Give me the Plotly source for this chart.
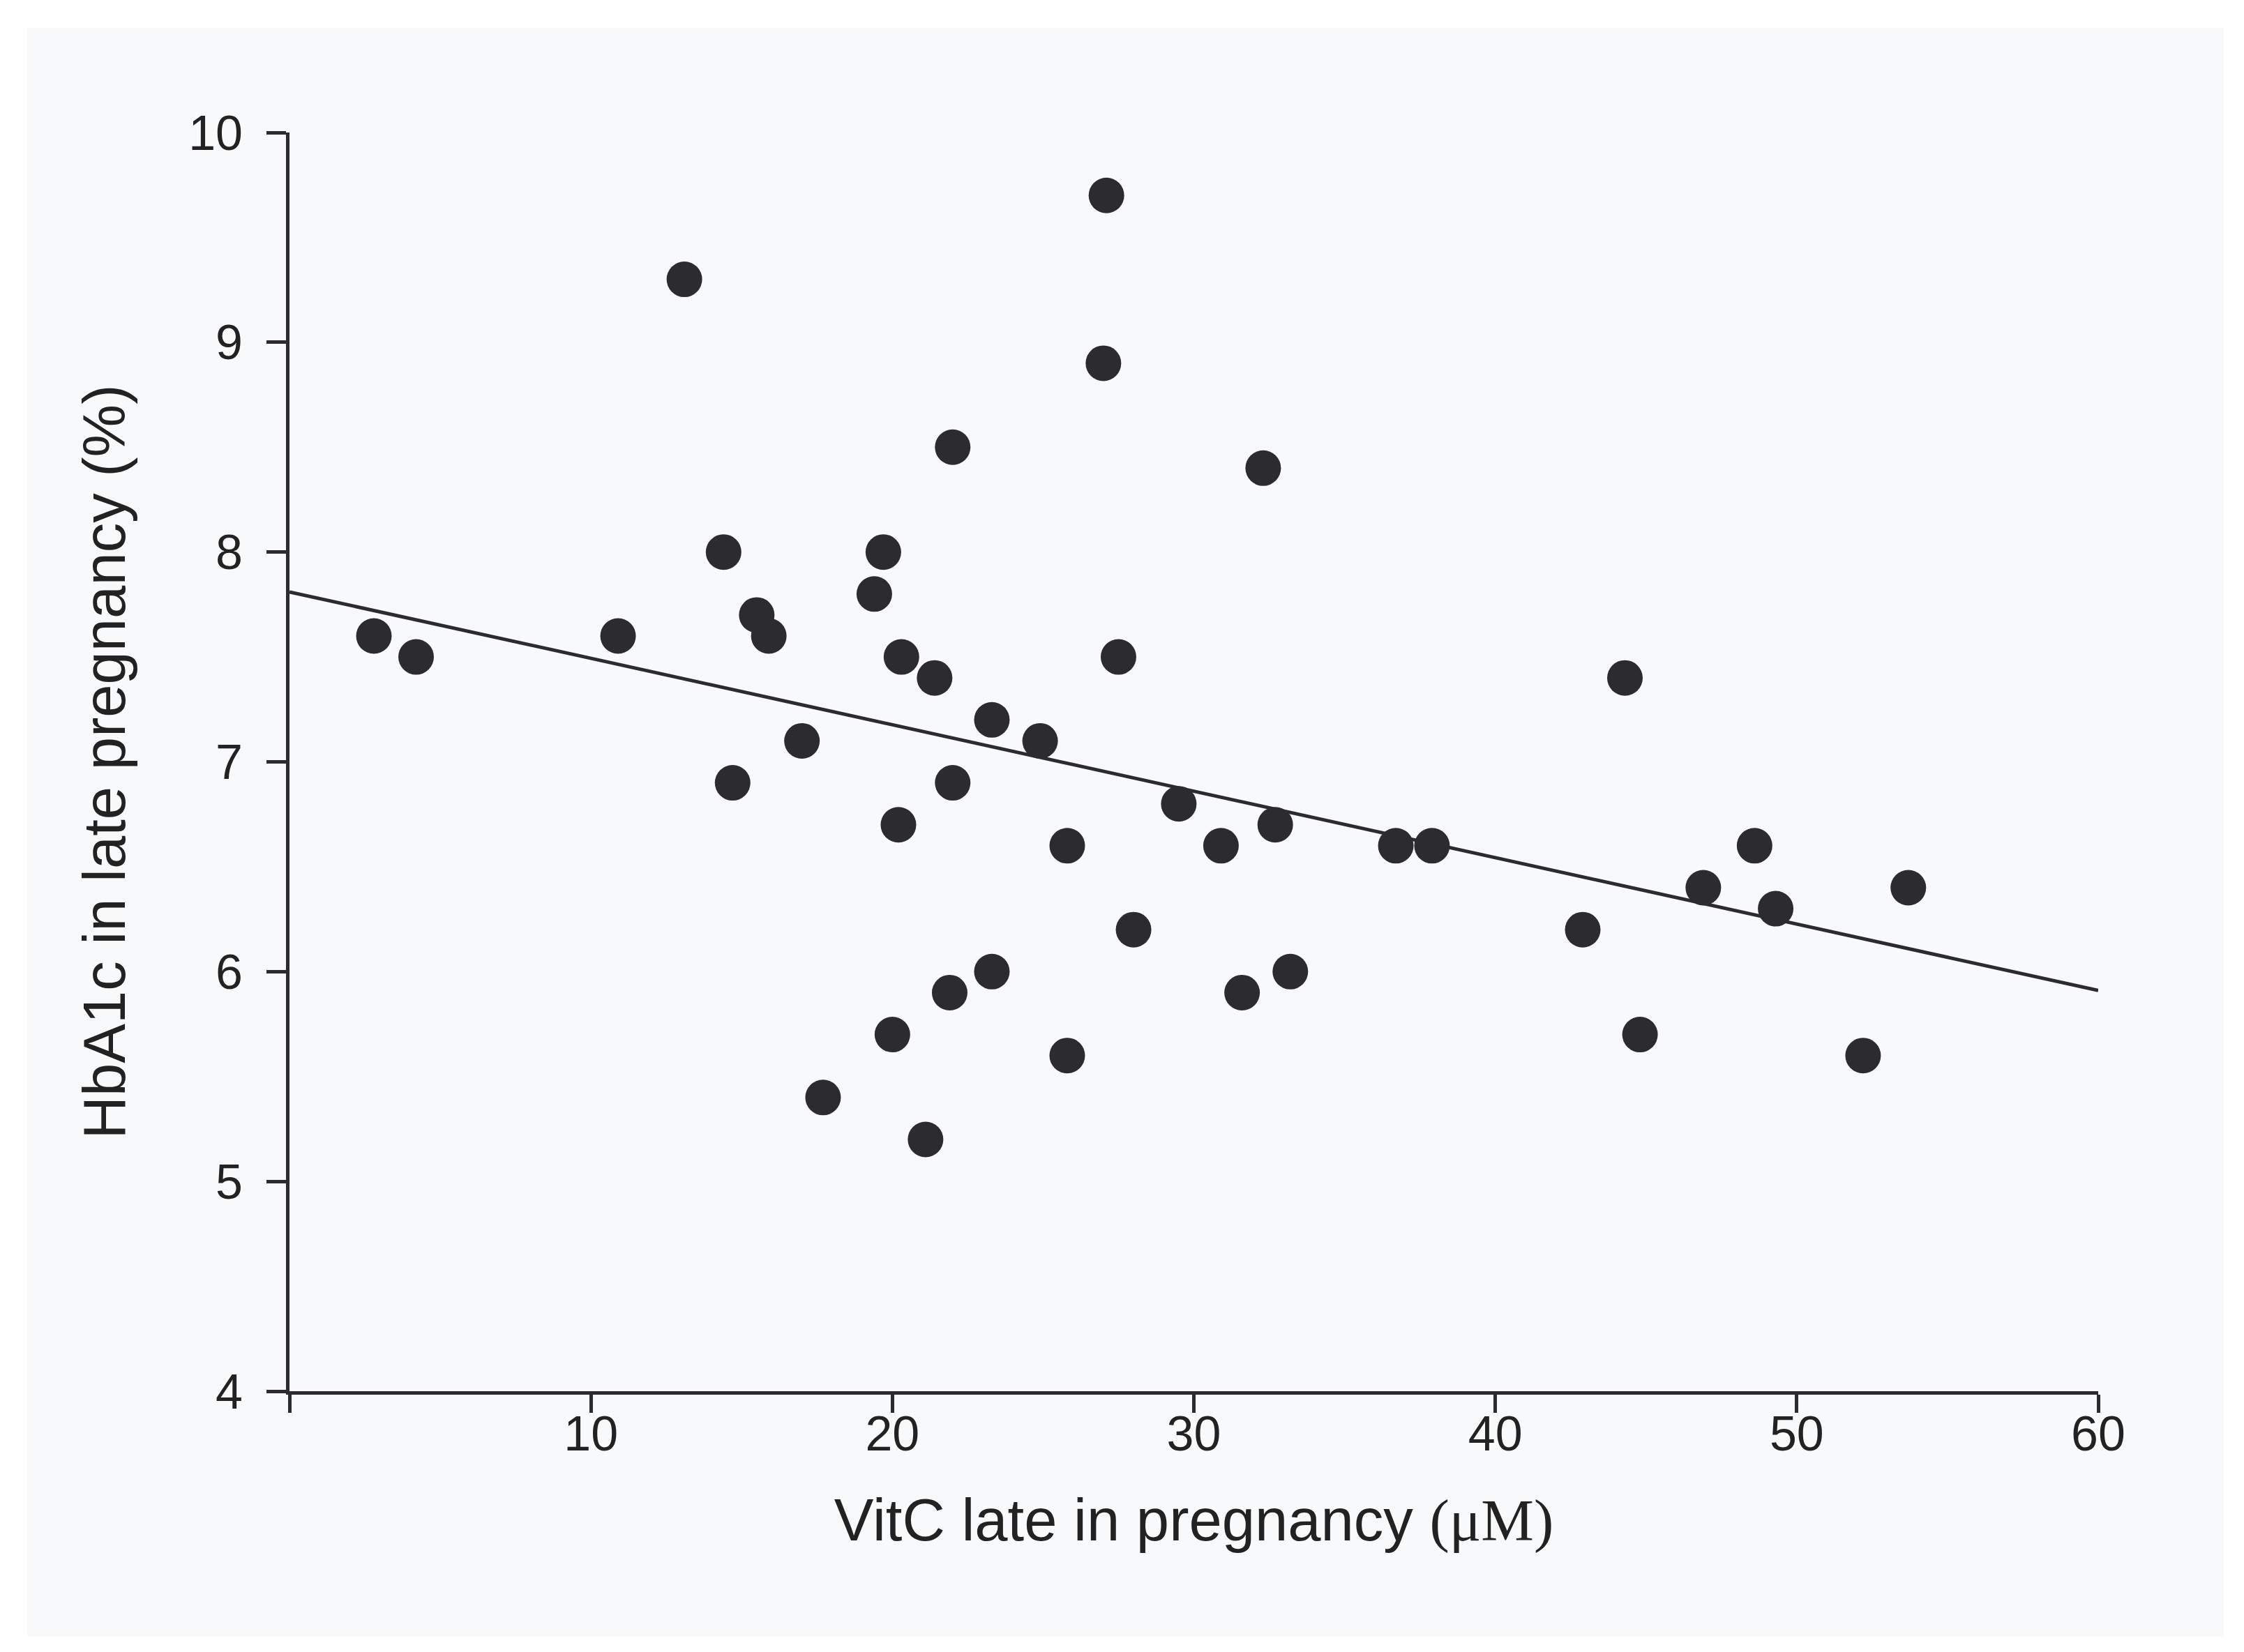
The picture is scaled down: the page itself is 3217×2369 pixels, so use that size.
import plotly.graph_objects as go

# VitC late in pregnancy (uM) vs HbA1c in late pregnancy (%)
vitc = [2.8, 4.2, 10.9, 13.1, 14.4, 14.7, 15.5, 15.9, 17.0, 17.7,
        19.4, 19.7, 20.0, 20.2, 20.3, 21.1, 21.4, 21.9, 22.0, 22.0,
        23.3, 23.3, 24.9, 25.8, 25.8, 27.1, 27.0, 27.5, 28.0, 29.5,
        30.9, 31.6, 32.3, 32.7, 33.2, 36.7, 37.9, 42.9, 44.3, 44.8,
        46.9, 48.6, 49.3, 52.2, 53.7]
hba1c = [7.6, 7.5, 7.6, 9.3, 8.0, 6.9, 7.7, 7.6, 7.1, 5.4,
         7.8, 8.0, 5.7, 6.7, 7.5, 5.2, 7.4, 5.9, 8.5, 6.9,
         6.0, 7.2, 7.1, 5.6, 6.6, 9.7, 8.9, 7.5, 6.2, 6.8,
         6.6, 5.9, 8.4, 6.7, 6.0, 6.6, 6.6, 6.2, 7.4, 5.7,
         6.4, 6.6, 6.3, 5.6, 6.4]

# regression line end points
fit_x = [0, 60]
fit_y = [7.81, 5.91]

x_ticks = [0, 10, 20, 30, 40, 50, 60]
x_labels = ['', '10', '20', '30', '40', '50', '60']
y_ticks = [4, 5, 6, 7, 8, 9, 10]

ink = '#2b2b30'
txt = '#222222'

fig = go.Figure()
fig.add_trace(go.Scatter(x=fit_x, y=fit_y, mode='lines',
                         line=dict(color=ink, width=5), showlegend=False))
fig.add_trace(go.Scatter(x=vitc, y=hba1c, mode='markers',
                         marker=dict(size=51, color=ink, line=dict(width=0)),
                         showlegend=False))

# light scanned-paper background with white border
fig.add_shape(type='rect', xref='paper', yref='paper',
              x0=-0.145, x1=1.0694, y0=-0.195, y1=1.083,
              fillcolor='#f8f9fb', line=dict(width=0), layer='below')

fig.update_xaxes(range=[0, 60], tickvals=x_ticks, ticktext=x_labels,
                 showline=True, linecolor=ink, linewidth=5,
                 ticks='outside', ticklen=26, tickwidth=4.5, tickcolor=ink,
                 ticklabelstandoff=-30,
                 showgrid=False, zeroline=False,
                 tickfont=dict(family='Liberation Sans, Arial', size=70, color=txt),
                 title=dict(text='VitC late in pregnancy <span style="font-family:\'Liberation Serif\'">(μM)</span>',
                            font=dict(family='Liberation Sans, Arial', size=85, color=txt),
                            standoff=57),
                 automargin=False)
fig.update_yaxes(range=[4, 10], tickvals=y_ticks,
                 showline=True, linecolor=ink, linewidth=5,
                 ticks='outside', ticklen=28, tickwidth=4.5, tickcolor=ink,
                 ticklabelstandoff=20,
                 showgrid=False, zeroline=False,
                 tickfont=dict(family='Liberation Sans, Arial', size=70, color=txt),
                 title=dict(text='HbA1c in late pregnancy (%)',
                            font=dict(family='Liberation Sans, Arial', size=85, color=txt),
                            standoff=64),
                 automargin=False)

fig.update_layout(width=3217, height=2369,
                  margin=dict(l=407, r=217, t=182, b=382),
                  paper_bgcolor='white', plot_bgcolor='rgba(0,0,0,0)')

fig.write_html('out.html')
